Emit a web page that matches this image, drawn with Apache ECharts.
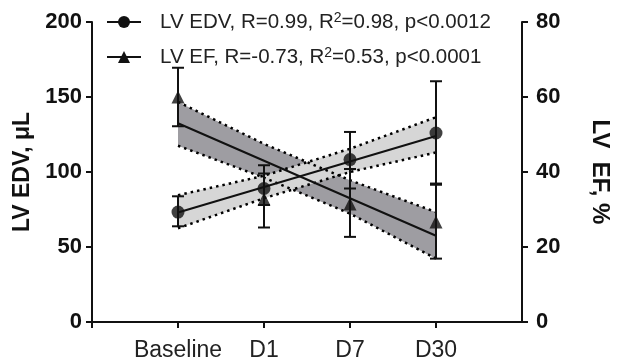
<!DOCTYPE html>
<html>
<head>
<meta charset="utf-8">
<script src="https://cdn.jsdelivr.net/npm/echarts@6/dist/echarts.min.js"></script>
<style>
  html, body { margin: 0; padding: 0; background: #fff; }
  #chart { width: 620px; height: 364px; }
</style>
</head>
<body>
<div id="chart"></div>
<script>
// x positions of the time points (value axis 0..5, points at 1..4)
const categories = ['Baseline', 'D1', 'D7', 'D30'];
const xPos = [1, 2, 3, 4];

// LV EDV (left axis, µL): means and error bar ends
const edvMean = [73.3, 89, 108.3, 126];
const edvLow = [63.8, 78, 89, 92.3];
const edvHigh = [83.8, 104.5, 126.7, 160.5];

// LV EF (right axis, %): means and error bar ends
const efMean = [60, 32.8, 31.5, 26.7];
const efLow = [52.2, 25.2, 22.7, 16.9];
const efHigh = [67.8, 39.6, 40.8, 36.6];

// regression lines and their confidence bands
const edvFit = [73, 90, 107, 124];
const edvBandLow = [62.5, 82.5, 100, 113];
const edvBandHigh = [84.5, 97.5, 115.5, 136.5];
const efFit = [53, 43, 33, 23];
const efBandLow = [47, 38.5, 28.9, 16.9];
const efBandHigh = [58.7, 47.5, 37.8, 29.3];

// legend texts: [before superscript, after superscript]
const legendText = {
  'LV EDV': ['LV EDV, R=0.99, R', '=0.98, p<0.0012'],
  'LV EF': ['LV EF, R=-0.73, R', '=0.53, p<0.0001']
};

const FONT = '"Liberation Sans", Arial, sans-serif';
const INK = '#111';

const pairs = (ys) => xPos.map((x, i) => [x, ys[i]]);

function bandFill(yAxisIndex, low, high, color) {
  return {
    type: 'custom',
    yAxisIndex,
    silent: true,
    z: 1,
    data: [[xPos[0], low[0]]],
    renderItem(params, api) {
      const pts = [];
      xPos.forEach((x, i) => pts.push(api.coord([x, high[i]])));
      for (let i = xPos.length - 1; i >= 0; i--) pts.push(api.coord([xPos[i], low[i]]));
      return { type: 'polygon', shape: { points: pts }, style: { fill: color } };
    }
  };
}

function dottedEdge(yAxisIndex, ys) {
  return {
    type: 'line',
    yAxisIndex,
    silent: true,
    z: 2,
    symbol: 'none',
    data: pairs(ys),
    lineStyle: { color: '#000', width: 2.5, type: [2.5, 4] }
  };
}

function errorBars(yAxisIndex, low, high) {
  return {
    type: 'custom',
    yAxisIndex,
    silent: true,
    z: 3,
    data: xPos.map((x, i) => [x, low[i], high[i]]),
    encode: { x: 0, y: [1, 2] },
    renderItem(params, api) {
      const x = api.value(0);
      const top = api.coord([x, api.value(2)]);
      const bot = api.coord([x, api.value(1)]);
      const w = 6;
      const st = { stroke: INK, lineWidth: 2 };
      return {
        type: 'group',
        children: [
          { type: 'line', shape: { x1: top[0], y1: top[1], x2: bot[0], y2: bot[1] }, style: st },
          { type: 'line', shape: { x1: top[0] - w, y1: top[1], x2: top[0] + w, y2: top[1] }, style: st },
          { type: 'line', shape: { x1: bot[0] - w, y1: bot[1], x2: bot[0] + w, y2: bot[1] }, style: st }
        ]
      };
    }
  };
}

function legendFor(name, top) {
  return {
    data: [name],
    left: 106,
    top,
    padding: 0,
    selectedMode: false,
    itemWidth: 34,
    itemHeight: 15,
    formatter: (n) => `{t|${legendText[n][0]}}{s|2}{t|${legendText[n][1]}}`,
    textStyle: {
      rich: {
        t: { fontFamily: FONT, fontSize: 20.5, color: '#222', lineHeight: 24 },
        s: { fontFamily: FONT, fontSize: 14, color: '#222', lineHeight: 14, verticalAlign: 'top', padding: [1, 0, 0, 0] }
      },
      padding: [0, 0, 0, 14]
    }
  };
}

const axisLineStyle = { color: INK, width: 2 };

const chart = echarts.init(document.getElementById('chart'), null, { renderer: 'canvas' });
chart.setOption({
  backgroundColor: '#fff',
  animation: false,
  grid: { left: 92, right: 80, top: 22, bottom: 42, containLabel: false },
  legend: [legendFor('LV EDV', 10), legendFor('LV EF', 45)],
  xAxis: {
    type: 'value',
    min: 0,
    max: 5,
    interval: 1,
    splitLine: { show: false },
    axisLine: { show: true, lineStyle: axisLineStyle },
    axisTick: { show: true, length: 6, lineStyle: axisLineStyle, customValues: [0].concat(xPos) },
    axisLabel: {
      customValues: xPos,
      formatter: (v) => categories[xPos.indexOf(v)] || '',
      fontFamily: FONT,
      fontSize: 23,
      color: '#222',
      margin: 17
    }
  },
  yAxis: [
    {
      type: 'value',
      position: 'left',
      min: 0,
      max: 200,
      interval: 50,
      splitLine: { show: false },
      axisLine: { show: true, lineStyle: axisLineStyle },
      axisTick: { show: true, length: 6, lineStyle: axisLineStyle },
      axisLabel: { fontFamily: FONT, fontWeight: 'bold', fontSize: 22, color: INK, margin: 10 },
      name: 'LV EDV, μL',
      nameLocation: 'middle',
      nameRotate: 90,
      nameGap: 51,
      nameTextStyle: { fontFamily: FONT, fontWeight: 'bold', fontSize: 23, color: INK }
    },
    {
      type: 'value',
      position: 'right',
      min: 0,
      max: 80,
      interval: 20,
      splitLine: { show: false },
      axisLine: { show: true, lineStyle: axisLineStyle },
      axisTick: { show: true, length: 6, lineStyle: axisLineStyle },
      axisLabel: { fontFamily: FONT, fontWeight: 'bold', fontSize: 22, color: INK, margin: 14 },
      name: 'LV  EF, %',
      nameLocation: 'middle',
      nameRotate: -90,
      nameGap: 66,
      nameTextStyle: { fontFamily: FONT, fontWeight: 'bold', fontSize: 24, color: INK }
    }
  ],
  series: [
    // confidence bands
    bandFill(1, efBandLow, efBandHigh, '#9e9da2'),
    bandFill(0, edvBandLow, edvBandHigh, '#d6d6d6'),
    dottedEdge(1, efBandLow),
    dottedEdge(1, efBandHigh),
    dottedEdge(0, edvBandLow),
    dottedEdge(0, edvBandHigh),
    // regression lines (named, so the legend shows line + marker)
    {
      name: 'LV EDV',
      type: 'line',
      yAxisIndex: 0,
      z: 3,
      symbol: 'circle',
      symbolSize: 12,
      showSymbol: false,
      data: pairs(edvFit),
      itemStyle: { color: INK },
      lineStyle: { color: INK, width: 2 }
    },
    {
      name: 'LV EF',
      type: 'line',
      yAxisIndex: 1,
      z: 3,
      symbol: 'triangle',
      symbolSize: 12,
      showSymbol: false,
      data: pairs(efFit),
      itemStyle: { color: INK },
      lineStyle: { color: INK, width: 2 }
    },
    // error bars
    errorBars(0, edvLow, edvHigh),
    errorBars(1, efLow, efHigh),
    // means
    {
      type: 'scatter',
      yAxisIndex: 0,
      z: 4,
      symbol: 'circle',
      symbolSize: 13,
      data: pairs(edvMean),
      itemStyle: { color: INK }
    },
    {
      type: 'scatter',
      yAxisIndex: 1,
      z: 4,
      symbol: 'triangle',
      symbolSize: 13,
      data: pairs(efMean),
      itemStyle: { color: INK }
    }
  ]
});
</script>
</body>
</html>
